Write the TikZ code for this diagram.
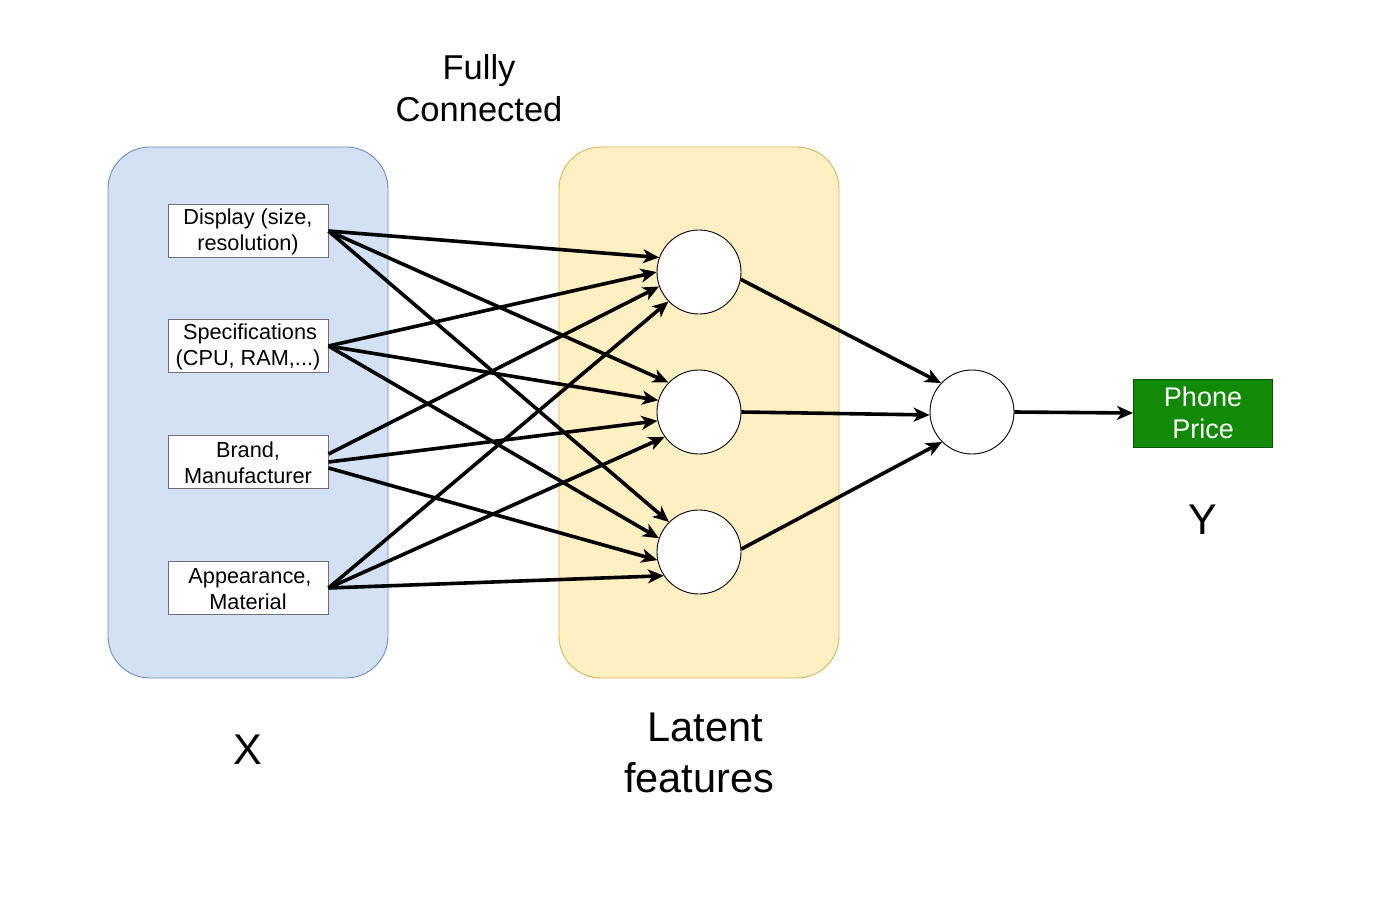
\documentclass[tikz,border=0pt]{standalone}
\usepackage{fontspec}
\setmainfont{Liberation Sans}
\usetikzlibrary{arrows.meta}
\definecolor{xfill}{HTML}{D4E1F5}
\definecolor{xline}{HTML}{6C8EBF}
\definecolor{hfill}{HTML}{FFF0C4}
\definecolor{hline}{HTML}{D6B656}
\definecolor{pricefill}{HTML}{138A07}
\definecolor{priceline}{HTML}{005700}
\definecolor{boxline}{HTML}{707070}
\begin{document}
\begin{tikzpicture}[x=1pt,y=-1pt,
  group/.style={rounded corners=42pt, line width=0.9pt, minimum width=280pt, minimum height=531pt, inner sep=0pt},
  feature/.style={draw=boxline, fill=white, line width=1pt, minimum width=160pt, minimum height=53pt,
    inner sep=0pt, align=center, font=\fontsize{21.7}{26}\selectfont},
  neuron/.style={circle, draw=black, fill=white, line width=0.9pt, minimum size=84pt, inner sep=0pt},
  link/.style={line width=3.6pt, -{Stealth[length=16pt,width=14pt,inset=4.5pt]}},
  caption/.style={align=center}]
\useasboundingbox (0,0) rectangle (1373,908);

% input and hidden groups
\node[group, fill=xfill, draw=xline] (inputs) at (248,412.5) {};
\node[group, fill=hfill, draw=hline] (latent) at (699,412.5) {};

% input features
\node[feature] (display) at (248,231) {\rule{0pt}{18pt}Display (size,\\resolution)};
\node[feature] (specs) at (248,346) {\rule{0pt}{18pt}\hspace*{4pt}Specifications\\(CPU, RAM,...)};
\node[feature] (brand) at (248,462) {\rule{0pt}{18pt}Brand,\\Manufacturer};
\node[feature] (look) at (248,588) {\rule{0pt}{18pt}\hspace*{4pt}Appearance,\\Material};

% neurons
\node[neuron] (h1) at (699,272) {};
\node[neuron] (h2) at (699,412) {};
\node[neuron] (h3) at (699,552) {};
\node[neuron] (out) at (972,412) {};

% output
\node[draw=priceline, fill=pricefill, text=white, line width=1pt, minimum width=139pt, minimum height=68pt,
  inner sep=0pt, align=center, font=\fontsize{27}{32}\selectfont] (price) at (1203,413) {Phone\\Price};

% captions
\node[caption, font=\fontsize{34.5}{41.4}\selectfont] (fc) at (479,88) {Fully\\Connected};
\node[caption, font=\fontsize{41.5}{51}\selectfont] (lat) at (699,753) {\hspace*{12pt}Latent\\features};
\node[font=\fontsize{43}{50}\selectfont] (xlab) at (248,750) {X};
\node[font=\fontsize{43}{50}\selectfont] (ylab) at (1203,520) {Y};

% fully connected input layer
\draw[link] (display.east) -- (h1.160);
\draw[link] (display.east) -- (h2.136);
\draw[link] (display.east) -- (h3.135);
\draw[link] (specs.east) -- (h1.180);
\draw[link] (specs.east) -- (h2.164);
\draw[link] (specs.east) -- (h3.161);
\draw[link] ([yshift=8pt]brand.east) -- (h1.200);
\draw[link] (brand.east) -- (h2.192);
\draw[link] ([yshift=-6pt]brand.east) -- (h3.191);
\draw[link] (look.east) -- (h1.224);
\draw[link] (look.east) -- (h2.216);
\draw[link] (look.east) -- (h3.214);

% hidden to output
\draw[link] (h1.-10) -- (out.137);
\draw[link] (h2.0) -- (out.184);
\draw[link] (h3.4) -- (out.225);
\draw[link] (out.east) -- (price.west);
\end{tikzpicture}
\end{document}
